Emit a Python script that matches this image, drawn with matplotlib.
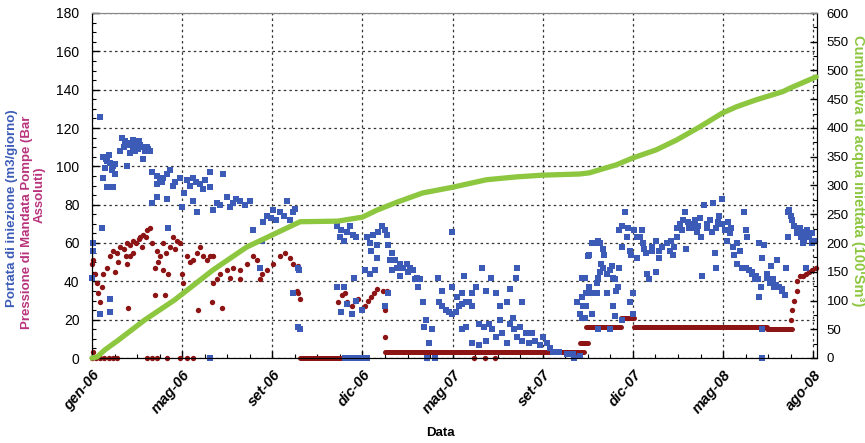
import matplotlib.pyplot as plt
from matplotlib.ticker import MultipleLocator

# giorni dal 1 gen 2006
giorni_tick = [0, 120, 240, 360, 480, 600, 720, 840, 960]
etichette_tick = ["gen-06", "mag-06", "set-06", "dic-06", "mag-07", "set-07", "dic-07", "mag-08", "ago-08"]

# portata di iniezione (m3/giorno): (giorno, valore)
portata = [
  (0,42),(1,56),(1,60),(13,68),(11,23),(24,24),(24,31),(11,126),
  (15,105),(20,103),(24,102),(28,100),(17,99),(19,104),(26,98),(22,106),(30,101),
  (15,94),(20,89),(28,89),(31,96),
  (37,108),(40,115),(43,110),(44,113),(47,112),(47,100),(50,107),(51,111),(54,114),(55,110),(57,108),
  (58,112),(61,109),(62,113),(64,111),(68,110),(68,104),(70,108),(73,110),(75,109),(77,108),
  (80,97),(80,81),(86,95),(86,91),(86,84),(90,93),(93,92),(95,94),(100,96),(100,83),(101,68),(104,98),(108,90),
  (110,92),(117,94),(120,79),(122,86),(126,93),(130,90),(134,82),(135,94),(138,92),(140,76),(144,91),
  (148,88),(150,93),(157,97),(157,89),(157,0),
  (161,77),(166,81),(170,80),(174,96),(180,84),(184,79),(188,81),(192,83),(197,82),(203,80),(210,82),
  (214,67),(223,47),(226,61),(227,71),
  (233,74),(238,73),(241,77),(245,72),(250,76),(255,74),(259,82),(263,72),(267,76),(267,34),(270,78),
  (274,47),(274,16),(275,46),(277,15),
  (326,69),(326,37),(330,63),(331,67),(332,24),(336,61),(336,37),(339,28),(340,66),(343,69),(346,23),
  (347,64),(349,42),(352,63),(352,30),
  (337,0),(342,0),(348,0),(355,0),(361,0),(366,0),
  (359,25),(364,46),(366,63),(370,60),(370,44),(372,56),(374,64),(377,46),(379,52),(379,59),(381,66),
  (386,69),(390,67),(390,27),(392,64),(394,59),(394,34),(396,51),
  (399,55),(399,46),(403,51),(406,47),(410,49),(410,43),(414,47),(419,49),(420,45),(423,47),(427,46),
  (430,41),(432,42),(434,37),(436,41),
  (440,29),(442,16),(445,20),(446,0),(449,8),(453,15),(457,0),(461,42),(466,35),
  (462,29),(466,27),(471,25),(475,24),(479,23),(479,66),(479,37),(485,24),(486,32),(489,27),(493,28),
  (493,34),(495,43),(498,29),(502,29),(506,27),(506,34),(511,37),(519,47),(525,35),(531,42),(538,34),
  (543,27),(553,29),(557,36),(565,42),(566,47),(572,29),
  (493,15),(498,16),(506,8),(515,18),(515,7),(522,16),(525,9),(528,18),(533,15),(538,11),(543,20),
  (546,13),(552,8),(557,18),(560,21),(562,15),(566,11),(570,16),(573,9),(578,13),(582,8),(586,13),
  (590,9),(596,7),(600,11),(605,8),(609,5),(613,3),(622,3),(632,2),(640,2),(641,0),(650,1),
  (646,29),(649,23),(652,32),(652,42),(652,21),(653,27),(656,21),(656,42),(658,34),(658,27),(660,53),
  (662,54),(662,37),(665,34),(666,23),(666,60),(669,60),(672,39),(672,34),(673,42),(673,61),(673,15),
  (676,60),(676,45),(678,49),(680,57),(680,47),(682,54),(685,44),(686,34),(689,46),(689,15),(692,48),
  (693,42),(693,27),(696,41),(696,22),(698,35),(700,37),(705,20),
  (702,47),(702,67),(705,58),(706,69),(709,76),(712,63),(713,68),(716,56),(716,29),(718,54),(720,23),
  (720,34),(722,67),(725,63),(726,52),(729,63),(732,67),(733,60),(735,57),(738,55),(739,44),(742,41),
  (745,56),(746,58),(751,61),(751,45),(755,56),(755,52),(759,58),(765,60),(769,56),(771,61),(773,54),
  (775,58),(778,63),(779,68),(782,70),(785,67),(786,72),(789,76),(791,57),(793,71),(795,68),(798,70),
  (799,68),(802,72),(805,66),(806,69),(809,73),
  (811,63),(812,43),(815,80),(818,68),(819,70),(822,72),(825,66),(826,81),(829,55),(831,47),(831,68),
  (833,71),(835,74),(839,83),(839,70),(842,67),(845,61),(846,71),(849,65),(851,68),(853,58),(855,54),
  (858,49),(859,60),(862,56),(865,47),(866,47),(868,76),(871,67),(871,47),(872,63),(875,46),(878,44),
  (879,45),(882,41),(884,43),(886,41),(888,60),(888,32),(891,37),(892,52),(892,0),(892,15),(895,59),
  (898,44),(899,42),(902,39),(904,48),(906,41),(908,37),(911,38),(912,51),(915,37),(918,35),(919,36),
  (922,33),(924,47),
  (926,76),(926,63),(928,77),(931,74),(932,72),(935,69),(938,67),(939,65),(942,68),(944,63),(946,66),
  (946,60),(948,61),(951,64),(951,47),(952,67),(955,63),(958,65),(959,60),(962,61),
]

# pressione di mandata pompe (bar): punti sparsi
pressione = [
  (0,49),(1,51),(4,44),(7,39),(8,34),(11,29),(13,37),(15,44),(20,47),(24,53),(28,56),(30,45),(33,55),
  (35,50),(37,58),(42,57),(45,53),(47,60),(47,49),(48,26),(50,59),(51,53),(55,61),(55,55),(58,60),
  (62,62),(64,63),(66,58),(68,64),(72,63),(73,67),(77,68),
  (80,60),(84,47),(84,33),(86,56),(88,50),(90,53),(94,60),(94,46),(97,33),(98,55),(101,44),(104,58),
  (108,63),(110,57),(113,61),(117,60),
  (120,44),(121,39),(126,53),(130,50),(134,51),(140,55),(141,25),(144,58),(148,53),(153,51),(157,53),
  (160,29),(161,53),(161,39),
  (166,41),(170,44),(173,26),(180,46),(184,42),(188,47),(197,46),(197,41),(206,49),(214,53),(219,51),
  (223,41),(226,44),(233,46),(241,49),(250,53),(257,55),(263,52),(267,49),(273,35),(274,48),(274,34),(277,31),
  (0,0),(5,0),(10,0),(16,0),(22,0),(28,0),(33,0),(1,3),(73,0),(80,0),(86,0),(100,0),(117,0),(126,0),(134,0),
  (327,29),(333,33),(337,34),(340,29),(346,27),(350,30),(354,31),(363,27),(367,30),(372,32),(376,34),
  (380,36),(387,35),(392,35),(390,11),(390,25),
  (446,0),(509,0),(523,0),(536,0),
  (931,20),(932,25),(935,30),(938,35),(939,40),(942,43),(946,43),(951,44),(955,45),(959,46),(964,47),
]

# pressione: tratti costanti (giorno inizio, giorno fine, valore)
pressione_tratti = [(277,366,0),(390,655,3),(650,660,8),(658,704,16),(704,721,21),(721,899,16),(899,932,15)]

# cumulativa di acqua iniettata (100 Sm3)
cumulativa = [
  (0,0),(7,2),(17,14),(35,31),(70,66),(110,101),(161,153),(206,193),(277,237),(327,238),(360,245),
  (379,257),(406,271),(440,287),(480,297),(525,310),(565,315),(600,318),(649,320),(662,322),(698,336),
  (720,348),(751,362),(778,379),(809,402),(839,426),(858,437),(884,449),(919,463),(932,471),(964,489),
]

BLU = "#3b5bb7"
ROSSO = "#8c1414"
VERDE = "#8dc63f"
ROSA = "#b8347c"
FONT = ["Liberation Sans", "DejaVu Sans"]


def main():
  plt.rcParams["font.family"] = FONT
  fig = plt.figure(figsize=(8.65, 4.43), dpi=100)
  ax = fig.add_axes([92/865, 85/443, 725/865, 345/443])
  ax.set_xlim(0, 965)
  ax.set_ylim(0, 180)

  ax.set_xticks(giorni_tick)
  ax.set_xticklabels(etichette_tick, rotation=50, ha="right", va="top", rotation_mode="anchor",
                     fontweight="bold", fontstyle="italic", fontsize=10.5)
  ax.xaxis.set_minor_locator(MultipleLocator(30))
  ax.yaxis.set_major_locator(MultipleLocator(20))
  ax.yaxis.set_minor_locator(MultipleLocator(5))
  for t in ax.get_yticklabels():
    t.set_fontsize(10)
  ax.tick_params(which="major", direction="in", length=5, width=1)
  ax.tick_params(which="minor", direction="in", length=3, width=0.8)
  ax.tick_params(axis="y", pad=9)
  ax.tick_params(axis="x", pad=7)
  ax.grid(True, which="major", color="#333333", linestyle=(0, (2, 2.5)), linewidth=0.9)
  ax.set_axisbelow(True)
  ax.spines["top"].set_color("#888888")
  ax.spines["top"].set_linewidth(0.8)

  for inizio, fine, val in pressione_tratti:
    ax.plot([inizio, fine], [val, val], color=ROSSO, linewidth=3.6, solid_capstyle="round", zorder=3, clip_on=False)
  ax.scatter([p[0] for p in pressione], [p[1] for p in pressione], marker="o", s=15,
             color=ROSSO, linewidths=0, zorder=3, clip_on=False)
  ax.scatter([p[0] for p in portata], [p[1] for p in portata], marker="s", s=16,
             color=BLU, linewidths=0, zorder=4, clip_on=False)

  ax2 = ax.twinx()
  ax2.set_ylim(0, 600)
  ax2.yaxis.set_major_locator(MultipleLocator(50))
  ax2.yaxis.set_minor_locator(MultipleLocator(25))
  ax2.tick_params(which="major", direction="in", length=5, width=1, pad=7)
  ax2.tick_params(which="minor", direction="in", length=3, width=0.8)
  for t in ax2.get_yticklabels():
    t.set_fontsize(9.5)
  ax2.plot([c[0] for c in cumulativa], [c[1] for c in cumulativa], color=VERDE, linewidth=3.8,
           solid_capstyle="round", zorder=5, clip_on=False)
  ax2.spines["top"].set_color("#888888")
  ax2.spines["top"].set_linewidth(0.8)

  fig.text(12/865, 1 - 208/443, "Portata di iniezione (m3/giorno)", rotation=90, color=BLU,
           fontweight="bold", ha="center", va="center", fontsize=9.5)
  fig.text(27/865, 1 - 222/443, "Pressione di Mandata Pompe (Bar", rotation=90, color=ROSA,
           fontweight="bold", ha="center", va="center", fontsize=9.5)
  fig.text(40/865, 1 - 195/443, "Assoluti)", rotation=90, color=ROSA,
           fontweight="bold", ha="center", va="center", fontsize=9.5)
  fig.text(858/865, 1 - 171/443, "Cumulativa di acqua iniettata (100'Sm\u00b3)", rotation=270, color=VERDE,
           fontweight="bold", ha="center", va="center", fontsize=10.5)
  fig.text(440/865, 1 - 433/443, "Data", fontweight="bold", ha="center", va="center", fontsize=9.5)

  fig.savefig("out.png", dpi=100)


if __name__ == "__main__":
  main()
